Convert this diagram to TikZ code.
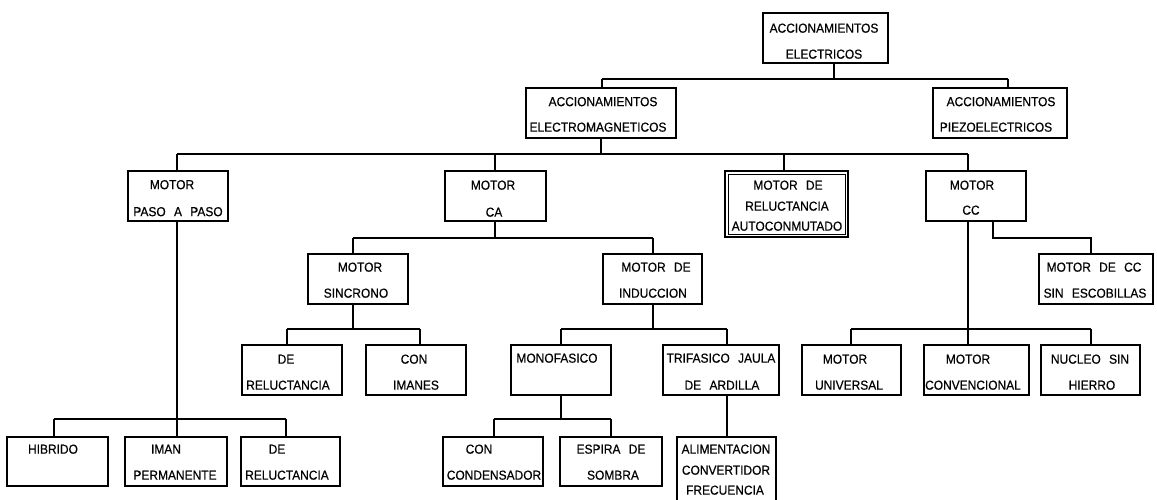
\documentclass[tikz,border=0pt]{standalone}
\usepackage{fontspec}
\setmainfont{Liberation Sans}[WordSpace=2.5,FakeStretch=0.92,FakeBold=0.5]
\begin{document}
\begin{tikzpicture}[x=1pt,y=-1pt,
  box/.style={draw=black,line width=1.2pt,inner sep=0pt,outer sep=0pt,anchor=north west},
  txt/.style={font=\fontsize{13}{15}\selectfont,inner sep=0pt,text height=9.3pt,text depth=0pt,anchor=center},
  wire/.style={draw=black,line width=1.2pt}]
\newcommand\mkbox[6]{\node[box,minimum width=#4pt,minimum height=#5pt,#6] (#1) at (#2,#3) {};}
\newcommand\mktext[4]{\node[txt] (#1) at (#2,#3) {#4};}
\newcommand\drop[2]{\draw[wire] (#1) -- (#1 |- #2.north);}
\fill[white] (0,0) rectangle (1157,499);
\useasboundingbox (0,0) rectangle (1157,499);

% ---- boxes ----
\mkbox{elec}{763}{13}{125}{50}{}
\mkbox{emag}{526}{88}{150}{50}{}
\mkbox{piezo}{933}{88}{134}{50}{}
\mkbox{paso}{128}{171}{100}{50}{}
\mkbox{ca}{445}{171}{101}{50}{}
\mkbox{rel}{725}{171}{123}{66}{line width=1.6pt}
\draw[line width=0.8pt] ([shift={(3,3)}]rel.north west) rectangle ([shift={(-3,-3)}]rel.south east);
\mkbox{cc}{926}{171}{100}{50}{}
\mkbox{sinc}{308}{254}{100}{50}{}
\mkbox{induc}{603}{254}{99}{50}{}
\mkbox{sesc}{1039}{254}{114}{50}{}
\mkbox{dere1}{242}{345}{100}{50}{}
\mkbox{iman1}{366}{345}{100}{50}{}
\mkbox{mono}{511}{345}{100}{50}{}
\mkbox{trif}{663}{345}{116}{50}{}
\mkbox{univ}{802}{345}{99}{50}{}
\mkbox{conv}{924}{345}{105}{50}{}
\mkbox{nuc}{1041}{345}{99}{50}{}
\mkbox{hib}{7}{437}{101}{49}{}
\mkbox{iman2}{125}{437}{102}{49}{}
\mkbox{dere2}{241}{437}{99}{49}{}
\mkbox{cond}{443}{437}{100}{49}{}
\mkbox{esp}{560}{437}{102}{49}{}
\mkbox{alim}{677}{437}{99}{66}{}

% ---- labels ----
\mktext{elec1}{824}{28}{ACCIONAMIENTOS}
\mktext{elec2}{824}{54}{ELECTRICOS}
\mktext{emag1}{603}{101.5}{ACCIONAMIENTOS}
\mktext{emag2}{598}{127}{ELECTROMAGNETICOS}
\mktext{piezo1}{1001}{101.5}{ACCIONAMIENTOS}
\mktext{piezo2}{996}{127}{PIEZOELECTRICOS}
\mktext{paso1}{172}{184.5}{MOTOR}
\mktext{paso2}{178}{211.5}{PASO A PASO}
\mktext{ca1}{493}{185}{MOTOR}
\mktext{ca2}{494}{212}{CA}
\mktext{rel1}{788}{185}{MOTOR DE}
\mktext{rel2}{787}{206}{RELUCTANCIA}
\mktext{rel3}{787}{226}{AUTOCONMUTADO}
\mktext{cc1}{972}{185}{MOTOR}
\mktext{cc2}{971}{210}{CC}
\mktext{sinc1}{360}{267}{MOTOR}
\mktext{sinc2}{356}{293}{SINCRONO}
\mktext{induc1}{656}{267}{MOTOR DE}
\mktext{induc2}{653}{293}{INDUCCION}
\mktext{sesc1}{1094}{267}{MOTOR DE CC}
\mktext{sesc2}{1095}{293}{SIN ESCOBILLAS}
\mktext{dere1a}{286}{359}{DE}
\mktext{dere1b}{288}{385}{RELUCTANCIA}
\mktext{iman1a}{414}{359}{CON}
\mktext{iman1b}{416}{385}{IMANES}
\mktext{mono1}{557}{358}{MONOFASICO}
\mktext{trif1}{721}{358}{TRIFASICO JAULA}
\mktext{trif2}{722}{385}{DE ARDILLA}
\mktext{univ1}{845}{359}{MOTOR}
\mktext{univ2}{849}{385}{UNIVERSAL}
\mktext{conv1}{968}{359}{MOTOR}
\mktext{conv2}{973}{385}{CONVENCIONAL}
\mktext{nuc1}{1090}{359}{NUCLEO SIN}
\mktext{nuc2}{1092}{385}{HIERRO}
\mktext{hib1}{53}{449}{HIBRIDO}
\mktext{iman2a}{166}{449}{IMAN}
\mktext{iman2b}{175}{475}{PERMANENTE}
\mktext{dere2a}{277}{449}{DE}
\mktext{dere2b}{287}{475}{RELUCTANCIA}
\mktext{cond1}{479}{449}{CON}
\mktext{cond2}{494}{475}{CONDENSADOR}
\mktext{esp1}{611}{449}{ESPIRA DE}
\mktext{esp2}{613}{475}{SOMBRA}
\mktext{alim1}{726}{449}{ALIMENTACION}
\mktext{alim2}{726}{470}{CONVERTIDOR}
\mktext{alim3}{725}{490}{FRECUENCIA}

% ---- junction points ----
\coordinate (j0) at (834,79);
\coordinate (b0a) at (602,79);
\coordinate (b0b) at (1008,79);
\coordinate (j1) at (601,154);
\coordinate (b1a) at (177,154);
\coordinate (b1b) at (495,154);
\coordinate (b1c) at (784,154);
\coordinate (b1d) at (968,154);
\coordinate (j2) at (495,238);
\coordinate (b2a) at (353,238);
\coordinate (b2b) at (653,238);
\coordinate (k1) at (993,238);
\coordinate (k2) at (1091,238);
\coordinate (j3) at (968,329);
\coordinate (b3a) at (851,329);
\coordinate (b3b) at (1091,329);
\coordinate (j4) at (353,329);
\coordinate (b4a) at (287,329);
\coordinate (b4b) at (420,329);
\coordinate (j5) at (653,329);
\coordinate (b5a) at (561,329);
\coordinate (b5b) at (727,329);
\coordinate (j6) at (561,419);
\coordinate (b6a) at (494,419);
\coordinate (b6b) at (611,419);
\coordinate (j7) at (177,419);
\coordinate (b7a) at (54,419);
\coordinate (b7b) at (286,419);
\coordinate (t8) at (727,395);

% ---- connectors ----
\draw[wire] (elec.south -| j0) -- (j0);
\draw[wire] (b0a) -- (b0b);
\drop{b0a}{emag}
\drop{b0b}{piezo}

\draw[wire] (emag.south -| j1) -- (j1);
\draw[wire] (b1a) -- (b1d);
\drop{b1a}{paso}
\drop{b1b}{ca}
\drop{b1c}{rel}
\drop{b1d}{cc}

\draw[wire] (ca.south -| j2) -- (j2);
\draw[wire] (b2a) -- (b2b);
\drop{b2a}{sinc}
\drop{b2b}{induc}

\draw[wire] (cc.south -| k1) -- (k1) -- (k2) -- (k2 |- sesc.north);
\draw[wire] (cc.south -| j3) -- (j3);
\draw[wire] (b3a) -- (b3b);
\drop{b3a}{univ}
\drop{j3}{conv}
\drop{b3b}{nuc}

\draw[wire] (sinc.south -| j4) -- (j4);
\draw[wire] (b4a) -- (b4b);
\drop{b4a}{dere1}
\drop{b4b}{iman1}

\draw[wire] (induc.south -| j5) -- (j5);
\draw[wire] (b5a) -- (b5b);
\drop{b5a}{mono}
\drop{b5b}{trif}

\draw[wire] (mono.south -| j6) -- (j6);
\draw[wire] (b6a) -- (b6b);
\drop{b6a}{cond}
\drop{b6b}{esp}

\draw[wire] (paso.south -| j7) -- (j7);
\draw[wire] (b7a) -- (b7b);
\drop{b7a}{hib}
\drop{j7}{iman2}
\drop{b7b}{dere2}

\draw[wire] (trif.south -| t8) -- (alim.north -| t8);
\end{tikzpicture}
\end{document}
